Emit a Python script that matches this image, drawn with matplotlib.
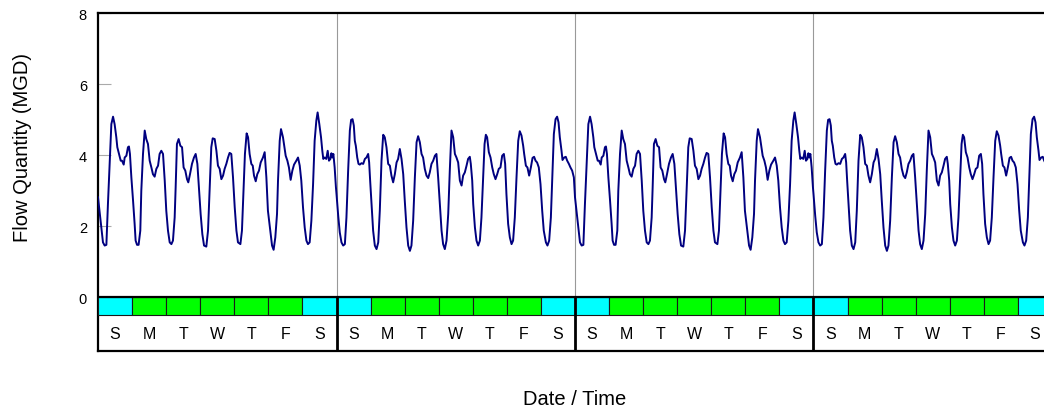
import numpy as np
import matplotlib
matplotlib.use("Agg")
import matplotlib.pyplot as plt
from matplotlib.patches import Rectangle

plt.rcParams["font.family"] = ["Liberation Sans", "DejaVu Sans"]

NAVY, CYAN, GREEN = "#000080", "#00ffff", "#00ff00"

# two alternating weekly flow records (hours from Sunday 00:00, MGD)
week_a_hours = [
    0.0, 3.5, 4.7, 5.9, 7.0, 8.2, 9.4, 10.6, 11.7, 12.9, 13.6, 14.8, 16.0, 16.9, 18.1, 18.8,
    20.0, 21.1, 21.8, 22.5, 23.5, 24.7, 25.8, 26.5, 27.5, 28.6, 29.8, 30.5, 31.7, 32.9, 34.0,
    35.2, 36.4, 37.6, 38.7, 39.9, 41.1, 42.3, 43.4, 44.6, 45.8, 47.0, 48.1, 49.3, 50.5, 51.7,
    52.8, 54.0, 54.7, 55.6, 56.8, 58.0, 59.2, 60.3, 61.5, 62.7, 63.6, 64.8, 66.2, 67.6, 68.8,
    70.0, 71.1, 72.3, 73.5, 74.7, 76.3, 77.5, 78.7, 79.8, 80.8, 82.2, 83.4, 84.5, 85.7, 86.9,
    88.1, 89.2, 90.4, 91.6, 92.7, 93.9, 95.1, 96.3, 97.5, 98.6, 100.3, 101.4, 102.6, 103.5,
    104.7, 105.7, 106.8, 108.0, 109.0, 109.9, 111.1, 112.2, 113.4, 114.6, 116.2, 117.4, 118.6,
    119.7, 121.4, 122.6, 123.7, 124.9, 126.1, 126.8, 128.0, 128.9, 130.3, 131.0, 132.2, 133.4,
    134.5, 135.7, 136.9, 138.1, 139.7, 140.9, 142.1, 143.2, 144.4, 145.6, 146.8, 147.9, 149.1,
    150.3, 151.5, 152.6, 153.8, 154.7, 155.9, 157.1, 158.0, 158.7, 159.7, 160.8, 161.8, 162.7,
    163.7, 164.4, 165.1, 165.8, 166.7, 167.6,
]
week_a_flow = [
    2.81, 1.54, 1.45, 1.47, 2.62, 3.75, 4.87, 5.08, 4.87, 4.50, 4.22, 4.03, 3.84, 3.84, 3.73, 3.93,
    3.98, 4.22, 4.24, 4.03, 3.37, 2.71, 2.06, 1.59, 1.47, 1.47, 1.87, 2.99, 4.03, 4.69, 4.45,
    4.31, 3.84, 3.65, 3.46, 3.39, 3.61, 3.70, 4.03, 4.12, 4.03, 3.28, 2.43, 1.87, 1.54, 1.49,
    1.59, 2.24, 3.09, 4.31, 4.45, 4.26, 4.22, 3.65, 3.56, 3.32, 3.23, 3.46, 3.75, 3.93, 4.03,
    3.75, 3.09, 2.34, 1.77, 1.45, 1.42, 1.87, 3.09, 4.22, 4.47, 4.45, 4.12, 3.70, 3.61, 3.32,
    3.42, 3.61, 3.75, 3.93, 4.06, 4.03, 3.37, 2.53, 1.87, 1.54, 1.49, 1.87, 3.09, 4.03,
    4.61, 4.50, 4.03, 3.75, 3.70, 3.42, 3.26, 3.46, 3.56, 3.79, 3.93, 4.08, 3.37,
    2.43, 1.87, 1.45, 1.33, 1.68, 2.34, 3.28, 4.40, 4.73, 4.50, 4.31, 3.98, 3.84,
    3.65, 3.30, 3.56, 3.73, 3.84, 3.93, 3.70, 3.28, 2.53, 1.96, 1.59, 1.49, 1.54,
    2.15, 3.18, 4.40, 4.97, 5.20, 4.87, 4.50, 4.12, 3.89, 3.93, 3.89, 4.12, 3.84,
    3.89, 4.05, 3.93, 4.03, 3.65, 3.09,
]
week_b_hours = [
    0.0, 1.2, 2.3, 3.5, 4.7, 5.9, 7.0, 8.2, 9.4, 10.3, 11.3, 12.2, 12.9, 13.6, 14.6, 15.5,
    16.4, 17.6, 18.8, 20.0, 21.1, 22.3, 23.0, 23.7, 24.7, 25.8, 27.0, 28.2, 29.4, 30.5, 31.7,
    32.9, 34.0, 35.2, 36.4, 37.6, 38.7, 39.9, 41.1, 42.3, 43.4, 44.6, 45.8, 47.0, 48.1, 49.3,
    50.5, 51.7, 52.8, 54.0, 55.2, 56.4, 57.5, 58.7, 59.9, 61.0, 62.2, 63.4, 64.6, 65.7, 66.9,
    68.1, 69.3, 70.4, 71.6, 72.8, 74.0, 75.1, 76.3, 77.5, 78.7, 79.8, 81.0, 82.2, 83.4, 84.5,
    85.7, 86.9, 88.1, 89.2, 90.4, 91.6, 92.7, 93.9, 94.6, 95.6, 96.3, 97.5, 98.6, 99.8, 101.0,
    102.1, 103.3, 104.3, 105.2, 106.1, 107.3, 108.5, 109.7, 110.8, 112.0, 113.2, 114.3, 115.5,
    116.7, 117.9, 118.8, 119.7, 120.9, 122.1, 123.3, 124.4, 125.6, 126.8, 128.0, 129.1, 130.3,
    131.5, 132.2, 133.4, 134.5, 135.7, 136.9, 138.1, 139.2, 140.2, 141.3, 142.5, 143.7, 144.9,
    146.0, 147.5, 148.6, 149.8, 151.0, 152.2, 153.1, 154.3, 155.4, 156.4, 157.3, 158.5, 159.2,
    160.4, 161.5, 162.5, 163.7, 164.8, 166.0, 167.2,
]
week_b_flow = [
    2.90, 2.29, 1.82, 1.54, 1.45, 1.49, 2.24, 3.56, 4.69, 4.99, 5.01, 4.83, 4.40, 4.26, 3.93, 3.75,
    3.73, 3.77, 3.75, 3.89, 3.93, 4.03, 3.79, 3.28, 2.62, 1.87, 1.45, 1.35, 1.54, 2.43, 3.84,
    4.57, 4.50, 4.22, 3.75, 3.70, 3.42, 3.23, 3.46, 3.79, 3.89, 4.17, 3.89, 3.46, 2.71, 1.96,
    1.45, 1.30, 1.45, 2.15, 3.37, 4.36, 4.53, 4.36, 4.03, 3.93, 3.61, 3.42, 3.35, 3.51, 3.75,
    3.84, 3.98, 4.03, 3.37, 2.62, 1.87, 1.49, 1.35, 1.59, 2.34, 3.56, 4.69, 4.50, 4.03, 3.93,
    3.79, 3.28, 3.14, 3.42, 3.51, 3.70, 3.89, 3.95, 3.75, 3.28, 2.62, 1.96, 1.59, 1.45, 1.59,
    2.24, 3.37, 4.31, 4.57, 4.50, 4.08, 3.93, 3.65, 3.46, 3.32, 3.46, 3.61, 3.65,
    3.98, 4.03, 3.75, 2.90, 2.06, 1.68, 1.49, 1.59, 2.24, 3.37, 4.40, 4.67, 4.55,
    4.26, 4.03, 3.70, 3.65, 3.42, 3.65, 3.92, 3.95, 3.84, 3.79, 3.65, 3.18, 2.43,
    1.87, 1.54, 1.45, 1.59, 2.24, 3.56, 4.59, 5.01, 5.08, 4.92, 4.50, 4.12, 3.86,
    3.93, 3.95, 3.84, 3.75, 3.65, 3.56, 3.37,
]
week_order = ["A", "B", "A", "B"]
day_letters = ["S", "M", "T", "W", "T", "F", "S"]
weekend = [True, False, False, False, False, False, True]
y_ticks = [0, 2, 4, 6, 8]

BOX_H = 0.507      # height of the day-colour strip (MGD units)
ROW_BOTTOM = -1.52  # bottom of the day-letter row

records = {"A": (week_a_hours, week_a_flow), "B": (week_b_hours, week_b_flow)}
t, q = [], []
for k, w in enumerate(week_order):
    h, f = records[w]
    t.append(np.asarray(h) + 168 * k)
    q.append(np.asarray(f))
t = np.concatenate(t)
q = np.concatenate(q)
n_days = 7 * len(week_order)

fig = plt.figure(figsize=(10.44, 4.10), dpi=100)
ax = fig.add_axes([98 / 1044, 58 / 410, 954 / 1044, 338 / 410])
ax.set_xlim(0, 24 * n_days)
ax.set_ylim(ROW_BOTTOM, 8)

# week dividers: faint in the plot area, heavy in the day-letter row
for k in range(1, len(week_order)):
    x = 168 * k
    ax.plot([x, x], [0, 8], color="#999999", lw=0.8, zorder=1)
    ax.plot([x, x], [ROW_BOTTOM, 0], color="black", lw=2.0, zorder=5)

ax.plot(t, q, color=NAVY, lw=1.4, zorder=3)

# day-colour strip and day letters
for d in range(n_days):
    wd = d % 7
    ax.add_patch(Rectangle((24 * d, -BOX_H), 24, BOX_H,
                           facecolor=CYAN if weekend[wd] else GREEN,
                           edgecolor="#1a1a1a", lw=0.8, zorder=4))
    ax.text(24 * d + 12, (ROW_BOTTOM - BOX_H) / 2, day_letters[wd],
            ha="center", va="center", fontsize=11.5, zorder=6)
ax.axhline(0, color="black", lw=1.6, zorder=5)

ax.set_yticks(y_ticks)
ax.set_xticks([])
ax.tick_params(axis="y", direction="in", length=9, width=0.8, color="#aaaaaa",
               labelsize=10.5, pad=8)
for s in ["left", "top", "bottom"]:
    ax.spines[s].set_linewidth(1.6)
    ax.spines[s].set_color("black")
ax.spines["right"].set_visible(False)

fig.text(23 / 1044, 1 - 147 / 410, "Flow Quantity (MGD)", rotation=90,
         ha="center", va="center", fontsize=14.5)
fig.text(575 / 1044, 1 - 400 / 410, "Date / Time", ha="center", va="center", fontsize=14.5)

fig.savefig("out.png", dpi=100)
